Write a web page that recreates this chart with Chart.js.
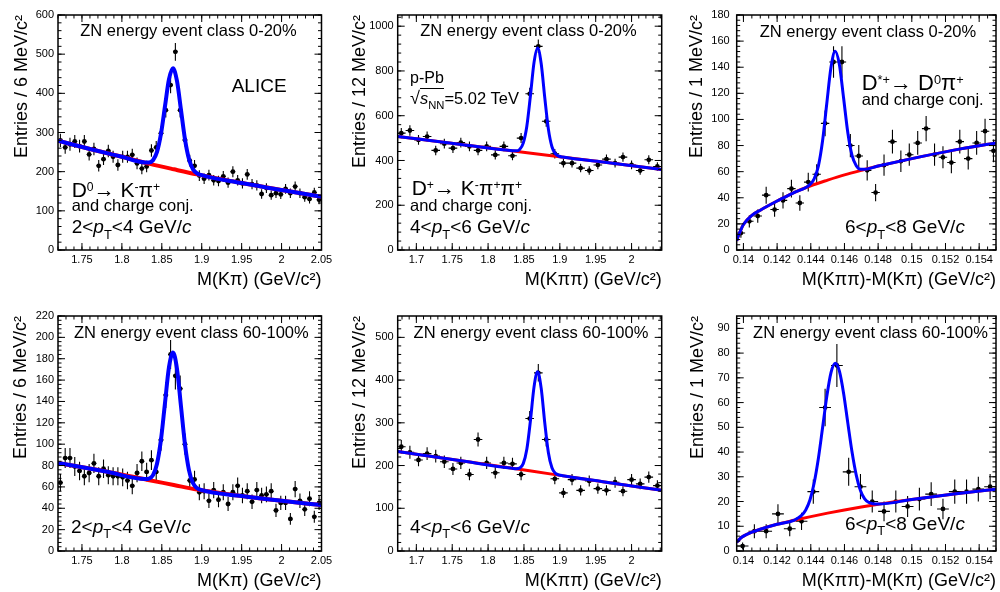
<!DOCTYPE html>
<html>
<head>
<meta charset="utf-8">
<script src="https://cdn.jsdelivr.net/npm/chart.js@4.4.1/dist/chart.umd.min.js"></script>
<style>
  body { margin: 0; background: #fff; width: 1000px; height: 592px; position: relative; overflow: hidden;
         font-family: "Liberation Sans", Arial, Helvetica, sans-serif; }
  canvas { position: absolute; }
  .lbl { position: absolute; white-space: nowrap; line-height: 1; color: #000; }
  .lbl sup { font-size: .58em; position: relative; top: -.5em; vertical-align: baseline; line-height: 0; }
  .lbl sub { font-size: .68em; position: relative; top: .42em; vertical-align: baseline; line-height: 0; }
  .zn { font-size: 16.5px; transform: translateX(-50%); }
  .pt { font-size: 19px; }
  .cc { font-size: 16.5px; }
  .decay { font-size: 21px; }
</style>
</head>
<body>
<canvas id="d0High" width="333" height="296" style="left:0;top:0"></canvas>
<canvas id="dplusHigh" width="330" height="296" style="left:340px;top:0"></canvas>
<canvas id="dstarHigh" width="330" height="296" style="left:670px;top:0"></canvas>
<canvas id="d0Low" width="333" height="296" style="left:0;top:296px"></canvas>
<canvas id="dplusLow" width="330" height="296" style="left:340px;top:296px"></canvas>
<canvas id="dstarLow" width="330" height="296" style="left:670px;top:296px"></canvas>

<!-- top row -->
<div class="lbl zn" style="left:188.5px;top:22px">ZN energy event class 0-20%</div>
<div class="lbl" style="font-size:19px;left:231.7px;top:75.6px">ALICE</div>
<div class="lbl decay" style="left:71.7px;top:178.9px">D<sup>0</sup>→ K<sup>-</sup>π<sup>+</sup></div>
<div class="lbl cc" style="left:71.7px;top:197px">and charge conj.</div>
<div class="lbl pt" style="left:71.7px;top:217.2px">2&lt;<i>p</i><sub>T</sub>&lt;4 GeV/<i>c</i></div>

<div class="lbl zn" style="left:528.5px;top:22px">ZN energy event class 0-20%</div>
<div class="lbl" style="font-size:16px;left:410px;top:69.8px">p-Pb</div>
<div class="lbl" style="font-size:16.5px;left:410px;top:89.3px"><span style="font-size:1.1em">√</span><span style="border-top:1.3px solid #000"><i>s</i><sub>NN</sub></span>=5.02 TeV</div>
<div class="lbl decay" style="left:411.7px;top:177.2px">D<sup>+</sup>→ K<sup>-</sup>π<sup>+</sup>π<sup>+</sup></div>
<div class="lbl cc" style="left:410px;top:197px">and charge conj.</div>
<div class="lbl pt" style="left:410px;top:217.2px">4&lt;<i>p</i><sub>T</sub>&lt;6 GeV/<i>c</i></div>

<div class="lbl zn" style="left:868px;top:22.7px">ZN energy event class 0-20%</div>
<div class="lbl" style="font-size:22px;left:861.7px;top:72.4px">D<sup>*+</sup>→ D<sup>0</sup>π<sup>+</sup></div>
<div class="lbl cc" style="left:861.7px;top:91px">and charge conj.</div>
<div class="lbl pt" style="left:845px;top:217.2px">6&lt;<i>p</i><sub>T</sub>&lt;8 GeV/<i>c</i></div>

<!-- bottom row -->
<div class="lbl zn" style="left:191.3px;top:323.7px">ZN energy event class 60-100%</div>
<div class="lbl pt" style="left:71px;top:516.6px">2&lt;<i>p</i><sub>T</sub>&lt;4 GeV/<i>c</i></div>

<div class="lbl zn" style="left:531px;top:323.7px">ZN energy event class 60-100%</div>
<div class="lbl pt" style="left:410px;top:516.6px">4&lt;<i>p</i><sub>T</sub>&lt;6 GeV/<i>c</i></div>

<div class="lbl zn" style="left:870.5px;top:323.7px">ZN energy event class 60-100%</div>
<div class="lbl pt" style="left:845px;top:513.9px">6&lt;<i>p</i><sub>T</sub>&lt;8 GeV/<i>c</i></div>

<script>
// ---- bin centres (GeV/c^2) ----
const d0Mass = [1.723, 1.729, 1.735, 1.741, 1.747, 1.753, 1.759, 1.765, 1.771, 1.777, 1.783, 1.789, 1.795, 1.801,
  1.807, 1.813, 1.819, 1.825, 1.831, 1.837, 1.843, 1.849, 1.855, 1.861, 1.867, 1.873, 1.879, 1.885, 1.891, 1.897,
  1.903, 1.909, 1.915, 1.921, 1.927, 1.933, 1.939, 1.945, 1.951, 1.957, 1.963, 1.969, 1.975, 1.981, 1.987, 1.993,
  1.999, 2.005, 2.011, 2.017, 2.023, 2.029, 2.035, 2.041, 2.047];
const dplusMass = [1.679, 1.691, 1.703, 1.715, 1.727, 1.739, 1.751, 1.762, 1.774, 1.786, 1.798, 1.810, 1.822, 1.834,
  1.846, 1.858, 1.870, 1.881, 1.893, 1.905, 1.917, 1.929, 1.941, 1.953, 1.965, 1.977, 1.988, 2.000, 2.012, 2.024, 2.036];
const dstarMassHigh = [0.13985, 0.14035, 0.14085, 0.14135, 0.14185, 0.14235, 0.14285, 0.14335, 0.14385, 0.14435,
  0.14485, 0.14535, 0.14585, 0.14635, 0.14685, 0.14735, 0.14785, 0.14835, 0.14885, 0.14935, 0.14985, 0.15035,
  0.15085, 0.15135, 0.15185, 0.15235, 0.15285, 0.15335, 0.15385, 0.15435, 0.15485];
const dstarMassLow = [0.13995, 0.14065, 0.14135, 0.14205, 0.14275, 0.14345, 0.14415, 0.14485, 0.14555, 0.14625,
  0.14695, 0.14765, 0.14835, 0.14905, 0.14975, 0.15045, 0.15115, 0.15185, 0.15255, 0.15325, 0.15395, 0.15465];

// ---- entries ----
const d0HighCounts = [280, 262, 270, 277, 265, 277, 244, 258, 215, 232, 253, 238, 217, 238, 238, 243, 221, 208, 213,
  254, 262, 298, 357, 421, 506, 357, 281, 228, 215, 190, 182, 191, 178, 176, 188, 172, 200, 178, 170, 193, 168, 165,
  143, 158, 140, 145, 142, 156, 145, 162, 145, 135, 130, 147, 128];
const dplusHighCounts = [522, 534, 492, 507, 445, 475, 455, 480, 463, 445, 463, 425, 463, 421, 500, 698, 910, 575,
  430, 388, 388, 366, 355, 380, 406, 388, 415, 380, 355, 403, 373];
const dstarHighCounts = [13, 22, 26, 42, 31, 38, 47, 36, 52, 58, 97, 144, 144, 80, 72, 61, 44, 65, 83, 68, 73, 82,
  93, 73, 71, 67, 83, 70, 82, 91, 76];
const d0LowCounts = [64, 87, 87, 79, 75, 70, 73, 82, 70, 77, 71, 70, 70, 69, 66, 61, 73, 84, 74, 85, 74, 104, 146,
  184, 164, 152, 100, 66, 67, 55, 56, 47, 57, 48, 55, 44, 55, 61, 52, 56, 46, 57, 52, 53, 56, 38, 45, 45, 30, 58,
  47, 39, 49, 32, 45];
const dplusLowCounts = [244, 231, 213, 228, 222, 209, 192, 206, 179, 261, 206, 183, 206, 204, 179, 310, 417, 261,
  169, 136, 167, 142, 164, 146, 142, 161, 140, 167, 157, 173, 153];
const dstarLowCounts = [2, 8, 8, 15, 9, 12, 24, 58, 75, 32, 26, 20, 16, 20, 18, 21, 23, 17, 24, 24, 25, 26];

// ---- fit curves (total = blue, background = red) ----
const d0HighBkgM = [1.72, 1.76, 1.80, 1.835, 1.865, 1.894, 1.95, 2.00, 2.05];
const d0HighBkgY = [279, 258, 238, 220, 206, 193, 171, 153, 136];
const d0HighFitM = [1.72, 1.76, 1.80, 1.829, 1.834, 1.839, 1.844, 1.849, 1.854, 1.859, 1.864, 1.869, 1.874, 1.879,
  1.884, 1.889, 1.894, 1.899, 1.95, 2.00, 2.05];
const d0HighFitY = [279, 258, 238, 223.6, 223.5, 229.3, 250.4, 297, 367.3, 436.1, 464, 431.5, 358.1, 283.2, 232.1,
  206.3, 195.9, 191.6, 171, 153, 136];

const dplusHighBkgM = [1.674, 1.76, 1.86, 1.96, 2.042];
const dplusHighBkgY = [507, 472.6, 432.7, 392.7, 360];
const dplusHighFitM = [1.674, 1.76, 1.834, 1.839, 1.844, 1.849, 1.854, 1.859, 1.864, 1.869, 1.874, 1.879, 1.884,
  1.889, 1.894, 1.899, 1.904, 1.96, 2.042];
const dplusHighFitY = [507, 472.6, 443.4, 442.9, 449.1, 477.4, 553.1, 688.6, 837.1, 903.1, 833.1, 680.6, 541.1,
  461.4, 429.1, 418.9, 415.4, 392.7, 360];

const dstarHighBkgM = [0.1396, 0.1397, 0.1398, 0.1400, 0.1405, 0.1410, 0.1420, 0.1430, 0.1440, 0.1450, 0.1460,
  0.1470, 0.1480, 0.1500, 0.1525, 0.1550];
const dstarHighBkgY = [7, 11, 14, 19.5, 26.5, 30.5, 37.5, 44, 49.2, 53.5, 57.5, 61, 64.3, 70, 76.5, 82];
const dstarHighFitM = [0.1396, 0.1397, 0.1398, 0.1400, 0.1405, 0.1410, 0.1420, 0.1430, 0.14395, 0.1442, 0.14445,
  0.1447, 0.14495, 0.1452, 0.14545, 0.1457, 0.14595, 0.1462, 0.14645, 0.1467, 0.14695, 0.1472, 0.1480, 0.1500,
  0.1525, 0.1550];
const dstarHighFitY = [7, 11, 14, 19.5, 26.5, 30.5, 37.5, 44, 50.1, 54.4, 64.3, 83.7, 112.2, 139.9, 152.3, 141.9,
  116.2, 89.8, 72.4, 64.6, 61.9, 61.9, 64.3, 70, 76.5, 82];

const d0LowBkgM = [1.72, 1.78, 1.833, 1.865, 1.894, 1.95, 2.00, 2.05];
const d0LowBkgY = [82.5, 74.5, 66.5, 61.8, 57.5, 51.5, 47, 43];
const d0LowFitM = [1.72, 1.78, 1.829, 1.834, 1.839, 1.844, 1.849, 1.854, 1.859, 1.864, 1.869, 1.874, 1.879, 1.884,
  1.889, 1.894, 1.899, 1.95, 2.00, 2.05];
const d0LowFitY = [82.5, 74.5, 67.4, 67.8, 71.0, 81.7, 104.5, 138.6, 172.1, 185.9, 170.6, 135.6, 100.0, 75.8, 63.6,
  58.9, 57.2, 51.5, 47, 43];

const dplusLowBkgM = [1.674, 1.76, 1.86, 1.96, 2.042];
const dplusLowBkgY = [233, 211.7, 187.0, 162.3, 142];
const dplusLowFitM = [1.674, 1.76, 1.834, 1.839, 1.844, 1.849, 1.854, 1.859, 1.864, 1.869, 1.874, 1.879, 1.884,
  1.889, 1.894, 1.899, 1.904, 1.96, 2.042];
const dplusLowFitY = [233, 211.7, 193.5, 192.7, 194.1, 204.5, 238, 304.9, 383.6, 419.8, 381.1, 299.9, 230.6, 194.6,
  181.7, 177.9, 176.2, 162.3, 142];

const dstarLowBkgM = [0.1396, 0.1398, 0.1400, 0.1405, 0.1410, 0.1420, 0.1430, 0.1440, 0.1450, 0.1460, 0.1470,
  0.1480, 0.1500, 0.1525, 0.1550];
const dstarLowBkgY = [3.5, 5, 6, 7.6, 8.8, 10.8, 12.4, 13.9, 15.3, 16.6, 17.8, 18.9, 20.8, 23, 25];
const dstarLowFitM = [0.1396, 0.1398, 0.1400, 0.1405, 0.1410, 0.1420, 0.1430, 0.1432, 0.14345, 0.1437, 0.14395,
  0.1442, 0.14445, 0.1447, 0.14495, 0.1452, 0.14545, 0.1457, 0.14595, 0.1462, 0.14645, 0.1467, 0.14695, 0.1472,
  0.14745, 0.1477, 0.1480, 0.1500, 0.1525, 0.1550];
const dstarLowFitY = [3.5, 5, 6, 7.6, 8.8, 10.8, 12.4, 13.2, 14.4, 16.6, 20.6, 27.5, 37.4, 49.8, 62.4, 72.1, 75.9,
  72.7, 63.7, 51.7, 40.0, 30.7, 24.5, 21.1, 19.6, 19.1, 19.0, 20.8, 23, 25];

// ---- tick labels ----
const d0XTicks = [1.75, 1.8, 1.85, 1.9, 1.95, 2, 2.05];
const dplusXTicks = [1.7, 1.75, 1.8, 1.85, 1.9, 1.95, 2];
const dstarXTicks = [0.14, 0.142, 0.144, 0.146, 0.148, 0.15, 0.152, 0.154];
const d0HighYTicks = [0, 100, 200, 300, 400, 500, 600];
const dplusHighYTicks = [0, 200, 400, 600, 800, 1000];
const dstarHighYTicks = [0, 20, 40, 60, 80, 100, 120, 140, 160, 180];
const d0LowYTicks = [0, 20, 40, 60, 80, 100, 120, 140, 160, 180, 200, 220];
const dplusLowYTicks = [0, 100, 200, 300, 400, 500];
const dstarLowYTicks = [0, 10, 20, 30, 40, 50, 60, 70, 80, 90];

Chart.defaults.font.family = '"Liberation Sans", Arial, Helvetica, sans-serif';
Chart.defaults.color = '#000';

function pts(xs, ys) {
  return xs.map((x, i) => ({ x: x, y: ys[i] }));
}

// data points with sqrt(N) vertical errors and bin-width horizontal bars
const errorBars = {
  id: 'errorBars',
  beforeDatasetsDraw(chart) {
    const { ctx, chartArea: a, scales: { x, y } } = chart;
    ctx.save();
    ctx.beginPath();
    ctx.rect(a.left, a.top, a.right - a.left, a.bottom - a.top);
    ctx.clip();
    ctx.strokeStyle = '#000';
    ctx.lineWidth = 1.1;
    chart.data.datasets.forEach(ds => {
      if (!ds.halfBin) return;
      ctx.beginPath();
      ds.data.forEach(p => {
        const err = Math.sqrt(p.y);
        const px = x.getPixelForValue(p.x);
        const py = y.getPixelForValue(p.y);
        ctx.moveTo(x.getPixelForValue(p.x - ds.halfBin), py);
        ctx.lineTo(x.getPixelForValue(p.x + ds.halfBin), py);
        ctx.moveTo(px, y.getPixelForValue(p.y - err));
        ctx.lineTo(px, y.getPixelForValue(p.y + err));
      });
      ctx.stroke();
    });
    ctx.restore();
  }
};

// ROOT style frame with ticks inside on all four sides
function rootFrame(p) {
  return {
    id: 'rootFrame',
    afterDatasetsDraw(chart) {
      const { ctx, chartArea: a, scales: { x, y } } = chart;
      ctx.save();
      ctx.strokeStyle = '#000';
      ctx.lineWidth = 1;
      ctx.beginPath();
      const xMark = (v, len) => {
        const px = x.getPixelForValue(v);
        ctx.moveTo(px, a.bottom); ctx.lineTo(px, a.bottom - len);
        ctx.moveTo(px, a.top); ctx.lineTo(px, a.top + len);
      };
      const yMark = (v, len) => {
        const py = y.getPixelForValue(v);
        ctx.moveTo(a.left, py); ctx.lineTo(a.left + len, py);
        ctx.moveTo(a.right, py); ctx.lineTo(a.right - len, py);
      };
      for (let n = Math.ceil(x.min / p.xMinor - 1e-6); n * p.xMinor <= x.max + 1e-9; n++) xMark(n * p.xMinor, 3.5);
      for (let n = Math.ceil(y.min / p.yMinor - 1e-6); n * p.yMinor <= y.max + 1e-9; n++) yMark(n * p.yMinor, 3.5);
      p.xTicks.forEach(v => xMark(v, 7));
      p.yTicks.forEach(v => yMark(v, 7));
      ctx.stroke();
      ctx.lineWidth = 1.5;
      ctx.strokeRect(a.left, a.top, a.right - a.left, a.bottom - a.top);
      ctx.restore();
    }
  };
}

function makePanel(id, p) {
  const L = p.layout;
  new Chart(document.getElementById(id), {
    type: 'scatter',
    data: {
      datasets: [
        { type: 'line', data: pts(p.fitM, p.fitY), borderColor: '#0000ff', borderWidth: L.fitWidth,
          pointRadius: 0, cubicInterpolationMode: 'monotone', fill: false, order: 0 },
        { type: 'line', data: pts(p.bkgM, p.bkgY), borderColor: '#ff0000', borderWidth: L.fitWidth,
          pointRadius: 0, cubicInterpolationMode: 'monotone', fill: false, order: 1 },
        { data: pts(p.mass, p.counts), halfBin: p.halfBin, pointRadius: 2.4, pointBackgroundColor: '#000',
          pointBorderWidth: 0, order: 2 }
      ]
    },
    options: {
      responsive: false,
      animation: false,
      devicePixelRatio: 1,
      layout: { padding: { top: L.padTop, right: L.padRight, left: 0, bottom: 0 } },
      plugins: { legend: { display: false }, tooltip: { enabled: false } },
      scales: {
        x: {
          type: 'linear', min: p.xMin, max: p.xMax,
          afterBuildTicks: s => { s.ticks = p.xTicks.map(v => ({ value: v })); },
          afterFit: s => { s.height = L.xHeight; s.paddingLeft = 0; s.paddingRight = 0; },
          grid: { display: false, drawTicks: false },
          border: { display: false },
          ticks: { autoSkip: false, maxRotation: 0, padding: 3.5, font: { size: 11 },
                   callback: v => String(Number(v.toFixed(5))) },
          title: { display: true, text: p.xTitle, align: 'end', font: { size: 18 },
                   padding: { top: 0, bottom: L.xTitlePad } }
        },
        y: {
          min: 0, max: p.yMax,
          afterBuildTicks: s => { s.ticks = p.yTicks.map(v => ({ value: v })); },
          afterFit: s => { s.width = L.yWidth; s.paddingTop = 0; s.paddingBottom = 0; },
          grid: { display: false, drawTicks: false },
          border: { display: false },
          ticks: { autoSkip: false, padding: L.yLabelPad, font: { size: 11 }, callback: v => String(v) },
          title: { display: true, text: p.yTitle, align: 'end', font: { size: 18 },
                   padding: { top: L.yTitlePad, bottom: 0 } }
        }
      }
    },
    plugins: [errorBars, rootFrame(p)]
  });
}

const titleKpi = 'M(Kπ) (GeV/c²)';
const titleKpipi = 'M(Kππ) (GeV/c²)';
const titleDelta = 'M(Kππ)-M(Kπ) (GeV/c²)';

makePanel('d0High', {
  mass: d0Mass, counts: d0HighCounts, halfBin: 0.003,
  fitM: d0HighFitM, fitY: d0HighFitY, bkgM: d0HighBkgM, bkgY: d0HighBkgY,
  xMin: 1.72, xMax: 2.05, yMax: 600, xTicks: d0XTicks, yTicks: d0HighYTicks, xMinor: 0.01, yMinor: 20,
  xTitle: titleKpi, yTitle: 'Entries / 6 MeV/c²',
  layout: { yWidth: 58, xHeight: 46, padTop: 15, padRight: 11.5, yTitlePad: 11, yLabelPad: 4, xTitlePad: 5, fitWidth: 4 }
});
makePanel('dplusHigh', {
  mass: dplusMass, counts: dplusHighCounts, halfBin: 0.006,
  fitM: dplusHighFitM, fitY: dplusHighFitY, bkgM: dplusHighBkgM, bkgY: dplusHighBkgY,
  xMin: 1.674, xMax: 2.042, yMax: 1050, xTicks: dplusXTicks, yTicks: dplusHighYTicks, xMinor: 0.01, yMinor: 40,
  xTitle: titleKpipi, yTitle: 'Entries / 12 MeV/c²',
  layout: { yWidth: 57.7, xHeight: 46, padTop: 15, padRight: 8.3, yTitlePad: 9, yLabelPad: 4, xTitlePad: 5, fitWidth: 3 }
});
makePanel('dstarHigh', {
  mass: dstarMassHigh, counts: dstarHighCounts, halfBin: 0.00025,
  fitM: dstarHighFitM, fitY: dstarHighFitY, bkgM: dstarHighBkgM, bkgY: dstarHighBkgY,
  xMin: 0.1396, xMax: 0.155, yMax: 180, xTicks: dstarXTicks, yTicks: dstarHighYTicks, xMinor: 0.0005, yMinor: 4,
  xTitle: titleDelta, yTitle: 'Entries / 1 MeV/c²',
  layout: { yWidth: 66.7, xHeight: 46, padTop: 15, padRight: 1.5, yTitlePad: 16, yLabelPad: 7, xTitlePad: 5, fitWidth: 3 }
});
makePanel('d0Low', {
  mass: d0Mass, counts: d0LowCounts, halfBin: 0.003,
  fitM: d0LowFitM, fitY: d0LowFitY, bkgM: d0LowBkgM, bkgY: d0LowBkgY,
  xMin: 1.72, xMax: 2.05, yMax: 220, xTicks: d0XTicks, yTicks: d0LowYTicks, xMinor: 0.01, yMinor: 4,
  xTitle: titleKpi, yTitle: 'Entries / 6 MeV/c²',
  layout: { yWidth: 58, xHeight: 41, padTop: 20, padRight: 11.5, yTitlePad: 10, yLabelPad: 4, xTitlePad: 0, fitWidth: 4 }
});
makePanel('dplusLow', {
  mass: dplusMass, counts: dplusLowCounts, halfBin: 0.006,
  fitM: dplusLowFitM, fitY: dplusLowFitY, bkgM: dplusLowBkgM, bkgY: dplusLowBkgY,
  xMin: 1.674, xMax: 2.042, yMax: 550, xTicks: dplusXTicks, yTicks: dplusLowYTicks, xMinor: 0.01, yMinor: 20,
  xTitle: titleKpipi, yTitle: 'Entries / 12 MeV/c²',
  layout: { yWidth: 57.7, xHeight: 41, padTop: 20, padRight: 8.3, yTitlePad: 9, yLabelPad: 4, xTitlePad: 0, fitWidth: 3 }
});
makePanel('dstarLow', {
  mass: dstarMassLow, counts: dstarLowCounts, halfBin: 0.00035,
  fitM: dstarLowFitM, fitY: dstarLowFitY, bkgM: dstarLowBkgM, bkgY: dstarLowBkgY,
  xMin: 0.1396, xMax: 0.155, yMax: 95, xTicks: dstarXTicks, yTicks: dstarLowYTicks, xMinor: 0.0005, yMinor: 2,
  xTitle: titleDelta, yTitle: 'Entries / 1 MeV/c²',
  layout: { yWidth: 66.7, xHeight: 41, padTop: 20, padRight: 1.5, yTitlePad: 17, yLabelPad: 7, xTitlePad: 0, fitWidth: 3 }
});
</script>
</body>
</html>
